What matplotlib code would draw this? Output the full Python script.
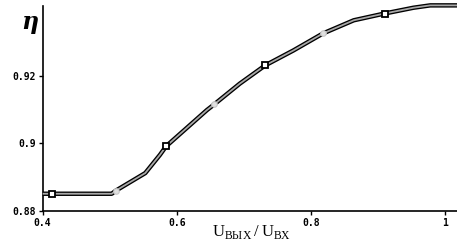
import matplotlib
matplotlib.use("Agg")
import matplotlib.pyplot as plt

plt.rcParams['mathtext.fontset'] = 'custom'
plt.rcParams['mathtext.rm'] = 'Liberation Serif'

curve_x = [0.400, 0.414, 0.503, 0.509, 0.553, 0.575, 0.584, 0.645, 0.656, 0.694,
           0.732, 0.774, 0.818, 0.864, 0.910, 0.953, 0.978, 1.018]
curve_y = [0.8851, 0.8851, 0.8851, 0.8860, 0.8912, 0.8966, 0.8991, 0.9098, 0.9115, 0.9176,
           0.9230, 0.9274, 0.9324, 0.9363, 0.9383, 0.9400, 0.9407, 0.9407]
square_x = [0.414, 0.584, 0.732, 0.910]
square_y = [0.8851, 0.8991, 0.9230, 0.9383]
circle_x = [0.509, 0.656, 0.818]
circle_y = [0.8860, 0.9115, 0.9324]
xticks = [0.4, 0.6, 0.8, 1.0]
xticklabels = ["0.4", "0.6", "0.8", "1"]
yticks = [0.88, 0.90, 0.92]
yticklabels = ["0.88", "0.9", "0.92"]

fig = plt.figure(figsize=(4.57, 2.42), dpi=100)
ax = fig.add_axes([0.0934, 0.128, 0.9066, 0.847])
ax.plot(curve_x, curve_y, color='black', lw=3.2, solid_capstyle='butt', clip_on=False, zorder=2)
ax.plot(curve_x, curve_y, color='#a8a8a8', lw=1.3, solid_capstyle='butt', clip_on=False, zorder=3)
ax.plot(square_x, square_y, ls='none', marker='s', ms=5, mfc='white', mec='black', mew=1.3,
        clip_on=False, zorder=4)
ax.plot(circle_x, circle_y, ls='none', marker='o', ms=4, mfc='#e0e0e0', mec='#c8c8c8', mew=0.8,
        clip_on=False, zorder=4)

ax.set_xlim(0.4, 1.018)
ax.set_ylim(0.88, 0.9405)
ax.spines['top'].set_visible(False)
ax.spines['right'].set_visible(False)
ax.spines['left'].set_linewidth(1.2)
ax.spines['bottom'].set_linewidth(1.2)
ax.set_xticks(xticks)
ax.set_xticklabels(xticklabels)
ax.set_yticks(yticks)
ax.set_yticklabels(yticklabels)
ax.tick_params(axis='both', direction='out', length=3, width=1, pad=2)
for lab in ax.get_xticklabels() + ax.get_yticklabels():
    lab.set_fontfamily('DejaVu Sans Mono')
    lab.set_fontweight('bold')
    lab.set_fontsize(7)

fig.text(30 / 457, 1 - 22 / 242, 'η', fontsize=17, fontweight='bold', fontstyle='italic',
         family='DejaVu Serif', ha='center', va='center')
fig.text(252 / 457, 1 - 232 / 242, r'$\mathrm{U}_{\mathrm{ВЫХ}}\,/\,\mathrm{U}_{\mathrm{ВХ}}$',
         fontsize=12, ha='center', va='center')

fig.savefig('out.png', dpi=100)
